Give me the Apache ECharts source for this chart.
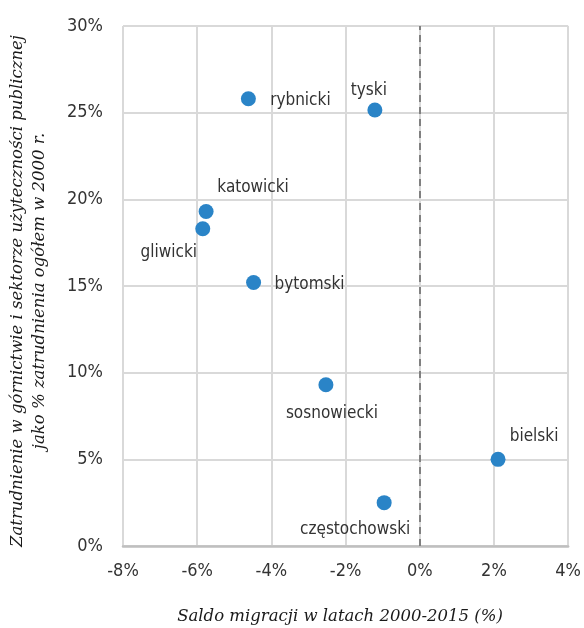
<!DOCTYPE html>
<html><head><meta charset="utf-8">
<script src="https://cdn.jsdelivr.net/npm/echarts@6/dist/echarts.min.js"></script>
<style>html,body{margin:0;padding:0;background:#fff}#c{width:584px;height:628px}</style>
</head><body><div id="c"></div>
<script>
const names = ['rybnicki','tyski','katowicki','gliwicki','bytomski','sosnowiecki','bielski','częstochowski'];
const migration = [-4.62, -1.21, -5.76, -5.85, -4.48, -2.53, 2.11, -0.96];
const employment = [25.8, 25.15, 19.3, 18.3, 15.2, 9.3, 5.0, 2.5];
const xTicks = [-8, -6, -4, -2, 0, 2, 4];
const yTicks = [0, 5, 10, 15, 20, 25, 30];
const xTitle = 'Saldo migracji w latach 2000-2015 (%)';
const yTitle = ['Zatrudnienie w górnictwie i sektorze użyteczności publicznej', 'jako % zatrudnienia ogółem w 2000 r.'];

const labelOffsets = {
  'rybnicki':[52,2], 'tyski':[-6,-19], 'katowicki':[47,-24], 'gliwicki':[-34,24],
  'bytomski':[56,2], 'sosnowiecki':[6,29], 'bielski':[36,-23], 'częstochowski':[-29,27]
};
const labelFont = '"DejaVu Sans Condensed","Liberation Sans Narrow",sans-serif';
const titleFont = '"DejaVu Serif",serif';

const chart = echarts.init(document.getElementById('c'));
chart.setOption({
  animation:false,
  grid:{left:123, right:13, top:26, bottom:82, containLabel:false},
  xAxis:{type:'value', min:xTicks[0], max:xTicks[xTicks.length-1], interval:2,
    axisLine:{show:true, onZero:false, lineStyle:{color:'#bfbfbf', width:2.5}},
    axisTick:{show:false},
    splitLine:{show:true, lineStyle:{color:'#d9d9d9', width:2}},
    axisLabel:{formatter:v=>v+'%', color:'#333', fontSize:18, fontFamily:labelFont, margin:16}
  },
  yAxis:{type:'value', min:yTicks[0], max:yTicks[yTicks.length-1], interval:5,
    axisLine:{show:false}, axisTick:{show:false},
    splitLine:{show:true, lineStyle:{color:'#d9d9d9', width:2}},
    axisLabel:{formatter:v=>v+'%', color:'#333', fontSize:18, fontFamily:labelFont, margin:20}
  },
  graphic:[
    {type:'text', x:340, y:617, style:{text:xTitle, fontFamily:titleFont, fontStyle:'italic', fontSize:16.5, fill:'#1a1a1a', align:'center', verticalAlign:'middle'}},
    {type:'text', x:29, y:291, rotation:Math.PI/2, style:{text:yTitle.join('\n'), fontFamily:titleFont, fontStyle:'italic', fontSize:16.5, lineHeight:22, fill:'#1a1a1a', align:'center', verticalAlign:'middle'}}
  ],
  series:[{
    type:'scatter', symbolSize:15,
    itemStyle:{color:'#2a84c7', opacity:1},
    data: names.map((n,i)=>({name:n, value:[migration[i], employment[i]],
      label:{show:true, position:'inside', offset:labelOffsets[n], formatter:n,
        color:'#333', fontSize:17, fontFamily:labelFont}})),
    markLine:{silent:true, symbol:'none', label:{show:false},
      lineStyle:{color:'#808080', type:[7,5], width:2},
      data:[{xAxis:0}]}
  }]
});
</script></body></html>
